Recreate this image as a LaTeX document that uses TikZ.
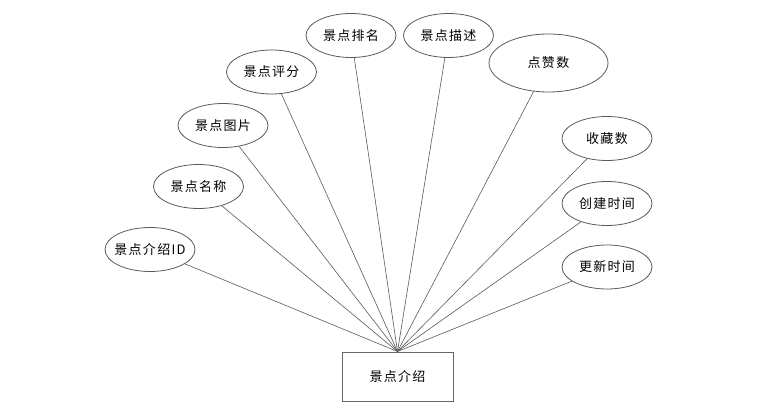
\documentclass[tikz,border=0pt]{standalone}
\usepackage{fontspec}
\newfontfamily\cjk[LetterSpace=10]{Noto Sans CJK SC}
\usetikzlibrary{shapes.geometric}
\begin{document}
\begin{tikzpicture}[x=1pt,y=-1pt,
  attr/.style={ellipse,draw=black!65,line width=0.8pt,inner sep=0pt,minimum width=90pt,minimum height=44pt,font=\cjk\fontsize{13}{15}\selectfont},
  ent/.style={rectangle,draw=black!60,line width=1pt,minimum width=111pt,minimum height=49pt,font=\cjk\fontsize{13}{15}\selectfont},
  link/.style={draw=black!65,line width=0.6pt}]
\useasboundingbox (0,0) rectangle (780,409);
\node[ent] (e) at (397.5,376.5) {景点介绍};
\node[attr] (a1) at (150,249.5) {\makebox[40pt][c]{景点介绍ID}};
\node[attr] (a2) at (198.5,186.5) {景点名称};
\node[attr] (a3) at (223,125.5) {景点图片};
\node[attr] (a4) at (271.5,72) {景点评分};
\node[attr] (a5) at (351,35.5) {景点排名};
\node[attr] (a6) at (448.5,35.5) {景点描述};
\node[attr,minimum width=119pt,minimum height=58pt] (a7) at (548.5,63) {点赞数};
\node[attr] (a8) at (607,138.5) {收藏数};
\node[attr] (a9) at (607,203.5) {创建时间};
\node[attr] (a10) at (607,267) {更新时间};
\foreach \i in {1,...,10} \draw[link] (a\i) -- (e.north);
\end{tikzpicture}
\end{document}
